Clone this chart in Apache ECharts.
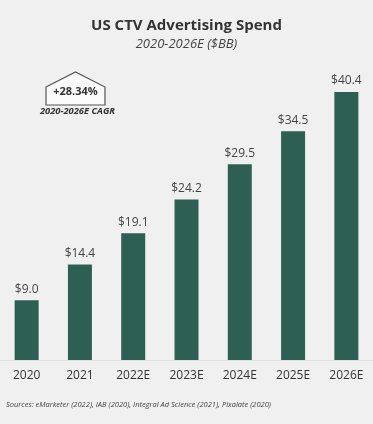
<!DOCTYPE html>
<html><head><meta charset="utf-8">
<script src="https://cdn.jsdelivr.net/npm/echarts@6/dist/echarts.min.js"></script>
<style>html,body{margin:0;padding:0;background:#f0f0f0;}#c{width:373px;height:424px;}</style>
</head><body><div id="c"></div>
<script>
var categories = ['2020','2021','2022E','2023E','2024E','2025E','2026E'];
var spend = [9.0, 14.4, 19.1, 24.2, 29.5, 34.5, 40.4];
var title = 'US CTV Advertising Spend';
var subtitle = '2020-2026E ($BB)';
var cagrValue = '+28.34%';
var cagrLabel = '2020-2026E CAGR';
var sources = 'Sources: eMarketer (2022), IAB (2020), Integral Ad Science (2021), Pixalate (2020)';

var chart = echarts.init(document.getElementById('c'));
chart.setOption({
  backgroundColor: '#f0f0f0',
  textStyle: { fontFamily: 'Open Sans' },
  title: [
    { text: title, left: 'center', top: 13, textStyle: { fontFamily: 'Open Sans', fontSize: 15, fontWeight: 'bold', color: '#333' } },
    { text: subtitle, left: 'center', top: 33, textStyle: { fontFamily: 'Open Sans', fontSize: 13, fontStyle: 'italic', fontWeight: 'normal', color: '#444' } }
  ],
  grid: { left: -1, right: -3, top: 61.5, bottom: 64, containLabel: false },
  xAxis: {
    type: 'category', data: categories,
    axisLine: { show: true, lineStyle: { color: '#e2e2e2', width: 1 } },
    axisTick: { show: false },
    axisLabel: { color: '#333', fontSize: 12, margin: 10 }
  },
  yAxis: { type: 'value', min: 0, max: 45, show: false, splitLine: { show: false } },
  series: [{
    type: 'bar', data: spend, barWidth: 24,
    itemStyle: { color: '#2e5f53' },
    label: { show: true, position: 'top', distance: 5, color: '#444', fontSize: 12,
      formatter: function(p){ return '$' + p.value.toFixed(1); } }
  }],
  graphic: [
    { type: 'polygon', shape: { points: [[46,87],[75.5,72],[105,87],[105,105],[46,105]] },
      style: { fill: '#fafafa', stroke: '#555', lineWidth: 1.2 } },
    { type: 'text', style: { text: cagrValue, x: 75.5, y: 92, textAlign: 'center', textVerticalAlign: 'middle', fill: '#333', font: 'bold 11px "Open Sans"' } },
    { type: 'text', style: { text: cagrLabel, x: 77.5, y: 111, textAlign: 'center', textVerticalAlign: 'middle', fill: '#333', font: 'italic bold 9.3px "Open Sans"' } },
    { type: 'text', style: { text: sources, x: 6, y: 405, textAlign: 'left', textVerticalAlign: 'middle', fill: '#444', font: 'italic 7.5px "Open Sans"' } }
  ]
});
</script></body></html>
